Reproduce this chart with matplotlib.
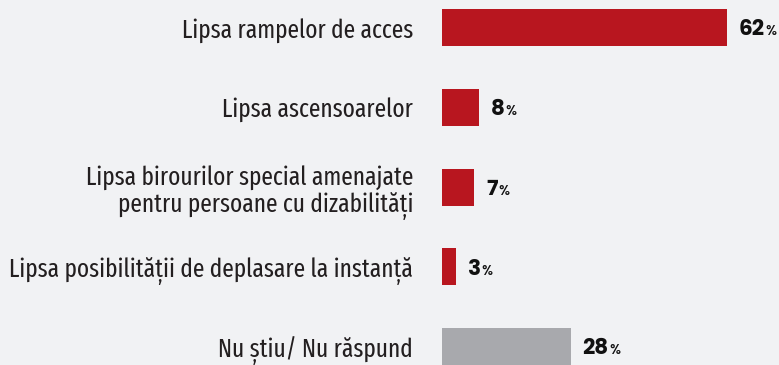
import numpy as np
import matplotlib.pyplot as plt

# survey answers, top to bottom
categories = [
    "Lipsa rampelor de acces",
    "Lipsa ascensoarelor",
    "Lipsa birourilor special amenajate\npentru persoane cu dizabilități",
    "Lipsa posibilității de deplasare la instanță",
    "Nu știu/ Nu răspund",
]
values = [62, 8, 7, 3, 28]
bar_colors = ["#B8161F", "#B8161F", "#B8161F", "#B8161F", "#A8A9AD"]

bg = "#F1F2F4"
ink = "#231F20"
label_font = ["Fira Sans Extra Condensed", "PT Sans Narrow", "DejaVu Sans"]
value_font = ["Poppins", "Lato", "DejaVu Sans"]

W, H = 779, 365
fig = plt.figure(figsize=(W / 100, H / 100), dpi=100, facecolor=bg)

# axes start where the bars start; labels hang off to the left
left_px = 442
ax = fig.add_axes([left_px / W, 0, (W - left_px) / W, 1])
ax.set_facecolor(bg)

px_per_pct = 4.6
step = 79.8      # row pitch in px
first = 27.5     # first row centre, px from top
bar_px = 37

pos = np.arange(len(values))
ax.barh(pos, values, height=bar_px / step, color=bar_colors, linewidth=0)

ax.set_xlim(0, (W - left_px) / px_per_pct)
ax.set_ylim(len(values) - 1 + (H - first - step * (len(values) - 1)) / step,
            -first / step)

for s in ax.spines.values():
    s.set_visible(False)
ax.set_xticks([])
ax.set_yticks(pos)
ax.set_yticklabels(categories, fontfamily=label_font,
                   fontsize=18.3, color=ink, linespacing=1.12)
ax.tick_params(axis="y", length=0, pad=(left_px - 413) * 0.72)

# value labels: big number followed by a small percent sign
for y, v in zip(pos, values):
    num = ax.annotate(str(v), xy=(v, y), xytext=(8.5, -5.5),
                      textcoords="offset points", ha="left", va="baseline",
                      fontfamily=value_font, fontweight="bold", fontsize=15.5,
                      color="#111111")
    ax.annotate("%", xy=(1, y), xycoords=(num, "data"), xytext=(0.6, -5.5),
                textcoords="offset points", ha="left", va="baseline",
                fontfamily=value_font, fontweight="medium", fontsize=10,
                color="#111111")

fig.savefig("out.png", dpi=100, facecolor=bg)
